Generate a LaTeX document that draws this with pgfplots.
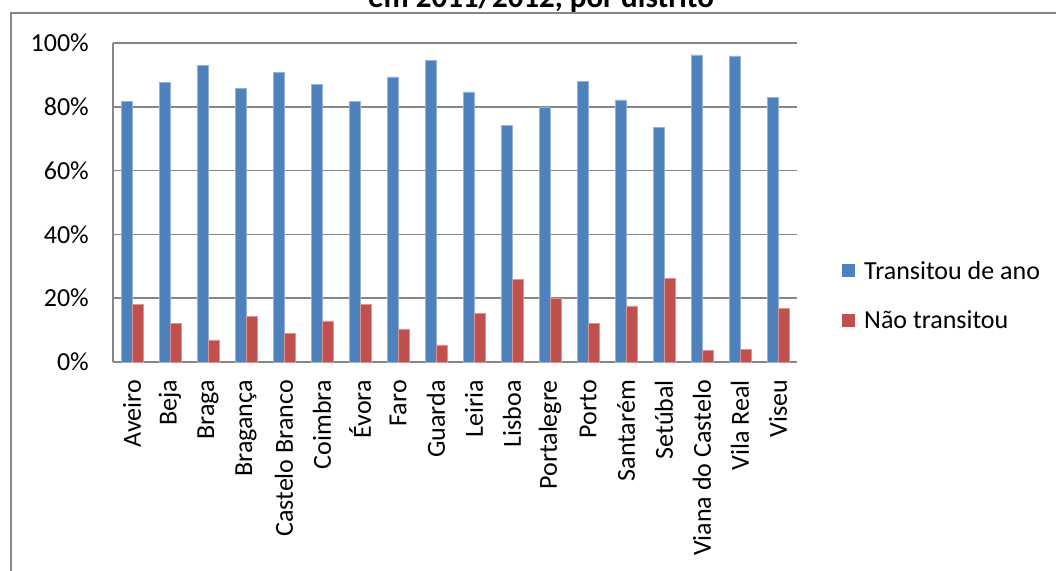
\documentclass[border=0pt]{standalone}
\usepackage{pgfplots}
\pgfplotsset{compat=1.18}
\usepackage{fontspec}
\setmainfont{Carlito}
\definecolor{blueS}{HTML}{4F81BD}
\definecolor{redS}{HTML}{C0504D}
\definecolor{gridG}{HTML}{868686}
\pgfplotstableread{
x blue red
0  0.818 0.180
1  0.877 0.121
2  0.930 0.069
3  0.857 0.142
4  0.909 0.089
5  0.870 0.129
6  0.817 0.181
7  0.894 0.104
8  0.945 0.054
9  0.847 0.152
10 0.741 0.258
11 0.800 0.200
12 0.879 0.120
13 0.822 0.176
14 0.736 0.262
15 0.963 0.036
16 0.960 0.039
17 0.830 0.168
}\datatable
\begin{document}
\begin{tikzpicture}[x=1pt,y=1pt]
\path[use as bounding box] (0,0) rectangle (1056,-570);
\draw[gridG, line width=1.5pt] (11,-13) rectangle (1100,-620);
\node[font=\bfseries\fontsize{31}{37}\selectfont, anchor=base, inner sep=0pt] at (541,-7.3) {em 2011/2012, por distrito};
\begin{axis}[
  at={(113pt,-362pt)}, anchor=south west,
  scale only axis, width=684pt, height=319pt,
  ybar=0pt, bar width=11pt,
  xmin=-0.5, xmax=17.5, ymin=0, ymax=1,
  xtick={0,...,17},
  xticklabels={Aveiro,Beja,Braga,Bragança,Castelo Branco,Coimbra,Évora,Faro,Guarda,Leiria,Lisboa,Portalegre,Porto,Santarém,Setúbal,Viana do Castelo,Vila Real,Viseu},
  ytick={0,0.2,0.4,0.6,0.8,1},
  yticklabels={0\%,20\%,40\%,60\%,80\%,100\%},
  separate axis lines,
  axis x line*=bottom, axis y line*=left,
  axis line style={gridG, line width=1.5pt, -},
  ymajorgrids, major grid style={gridG, line width=1.5pt},
  major tick length=0pt,
  tick label style={font=\fontsize{26}{31}\selectfont, inner sep=0pt},
  yticklabel style={anchor=east, xshift=-24pt},
  xticklabel style={yshift=-18pt, rotate=90, anchor=east},
  legend style={at={(1.0658,0.2085)}, anchor=west, draw=none, fill=none,
    font=\fontsize{26}{31}\selectfont, inner sep=0pt, row sep=26pt,
    column sep=7pt, legend cell align=left},
  legend image code/.code={\path[#1, draw=none] (0pt,-6.5pt) rectangle (13pt,6.5pt);},
]
\addplot[fill=blueS, draw=blueS!60!white, line width=0.5pt] table[x=x, y=blue] {\datatable};
\addplot[fill=redS, draw=redS!60!white, line width=0.5pt] table[x=x, y=red] {\datatable};
\legend{Transitou de ano, Não transitou}
\end{axis}
\end{tikzpicture}
\end{document}
